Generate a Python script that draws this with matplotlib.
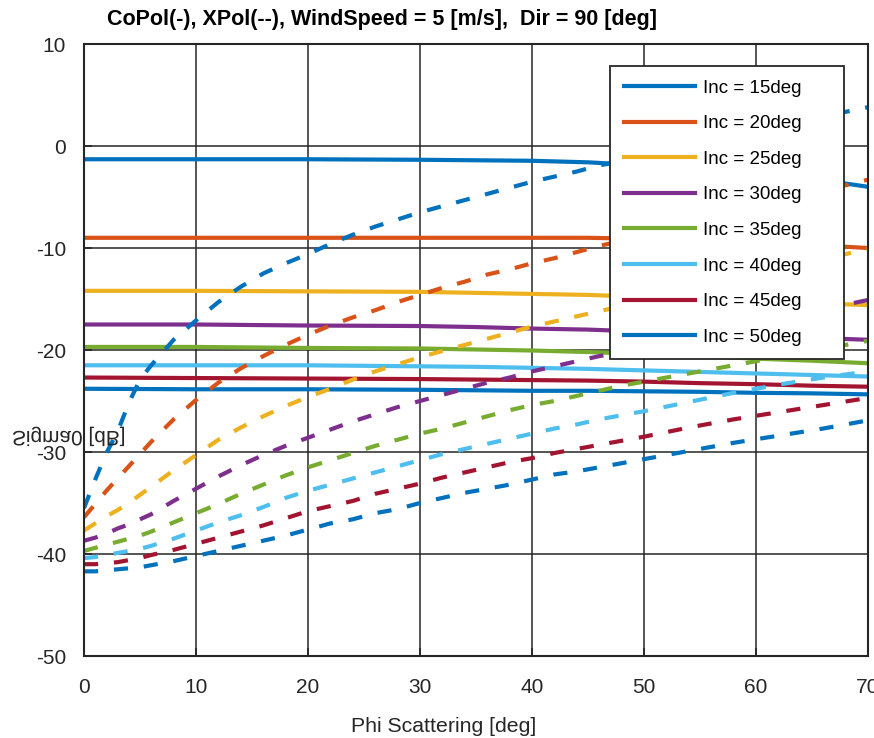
import matplotlib
matplotlib.use("Agg")
import matplotlib.pyplot as plt
from matplotlib.patheffects import AbstractPathEffect
from matplotlib.transforms import Affine2D

plt.rcParams['font.family'] = ['Liberation Sans', 'DejaVu Sans']
plt.rcParams['axes.unicode_minus'] = False

inc_angles = [15, 20, 25, 30, 35, 40, 45, 50]
colors = ["#0072BD", "#D95319", "#EDB120", "#7E2F8E",
          "#77AC30", "#4DBEEE", "#A2142F", "#0072BD"]

# CoPol (solid lines)
phi_co = [0, 10, 20, 30, 35, 40, 45, 50, 55, 60, 65, 70]
co_15 = [-1.3, -1.3, -1.3, -1.35, -1.4, -1.45, -1.6, -1.9, -2.3, -2.7, -3.2, -4.0]
co_20 = [-9.0, -9.0, -9.0, -9.0, -9.0, -9.0, -9.0, -9.1, -9.3, -9.5, -9.7, -10.0]
co_25 = [-14.2, -14.2, -14.25, -14.3, -14.4, -14.5, -14.6, -14.8, -15.0, -15.2, -15.4, -15.6]
co_30 = [-17.5, -17.5, -17.6, -17.65, -17.75, -17.9, -18.0, -18.2, -18.4, -18.6, -18.8, -19.0]
co_35 = [-19.7, -19.7, -19.8, -19.85, -19.95, -20.05, -20.2, -20.4, -20.6, -20.85, -21.05, -21.3]
co_40 = [-21.5, -21.5, -21.5, -21.6, -21.65, -21.75, -21.85, -22.0, -22.15, -22.3, -22.45, -22.6]
co_45 = [-22.7, -22.75, -22.8, -22.85, -22.9, -22.95, -23.0, -23.1, -23.25, -23.35, -23.5, -23.6]
co_50 = [-23.8, -23.85, -23.85, -23.9, -23.95, -24.0, -24.0, -24.05, -24.1, -24.2, -24.25, -24.35]

# XPol (dashed lines)
phi_x = [0, 1, 2, 3, 4, 5, 6, 8, 10, 12, 14, 16, 18, 20, 22, 24, 26, 28, 30,
         32, 34, 36, 38, 40, 42, 44, 46, 48, 50, 54, 58, 62, 66, 70]
x_15 = [-35.5, -32.7, -30.1, -28.0, -25.2, -22.9, -21.5, -19.0, -17.1, -15.3, -13.8, -12.5,
        -11.5, -10.6, -9.6, -8.7, -7.9, -7.2, -6.5, -5.9, -5.3, -4.7, -4.1, -3.5, -3.0,
        -2.5, -1.9, -1.5, -1.0, 0.0, 1.0, 2.0, 2.9, 3.8]
x_20 = [-36.4, -35.1, -33.8, -32.6, -31.4, -30.2, -29.0, -26.8, -24.9, -23.2, -21.8, -20.6,
        -19.5, -18.5, -17.6, -16.8, -16.1, -15.3, -14.6, -13.9, -13.3, -12.6, -12.1, -11.5,
        -11.0, -10.4, -9.8, -9.3, -8.8, -7.7, -6.6, -5.4, -4.4, -3.3]
x_25 = [-37.7, -37.0, -36.3, -35.7, -35.0, -34.2, -33.4, -31.8, -30.3, -28.8, -27.6, -26.5,
        -25.5, -24.6, -23.8, -22.9, -22.1, -21.4, -20.7, -20.1, -19.5, -18.9, -18.3, -17.7,
        -17.2, -16.7, -16.2, -15.7, -15.2, -14.2, -13.1, -12.1, -11.1, -10.1]
x_30 = [-38.7, -38.4, -38.0, -37.5, -37.1, -36.6, -36.1, -34.8, -33.6, -32.4, -31.3, -30.3,
        -29.4, -28.6, -27.8, -27.0, -26.3, -25.6, -25.0, -24.4, -23.8, -23.2, -22.7, -22.1,
        -21.6, -21.1, -20.6, -20.2, -19.8, -18.9, -17.9, -17.0, -16.0, -15.1]
x_35 = [-39.7, -39.4, -39.1, -38.8, -38.5, -38.2, -37.8, -36.9, -36.0, -35.1, -34.1, -33.2,
        -32.3, -31.5, -30.8, -30.1, -29.4, -28.8, -28.2, -27.7, -27.1, -26.5, -25.9, -25.4,
        -25.0, -24.5, -24.0, -23.5, -23.1, -22.3, -21.5, -20.7, -19.9, -19.1]
x_40 = [-40.4, -40.3, -40.1, -39.9, -39.7, -39.5, -39.2, -38.5, -37.7, -36.9, -36.2, -35.4,
        -34.5, -33.8, -33.2, -32.6, -32.0, -31.4, -30.8, -30.2, -29.7, -29.2, -28.7, -28.2,
        -27.7, -27.3, -26.8, -26.4, -26.0, -25.1, -24.2, -23.4, -22.7, -22.1]
x_45 = [-41.0, -41.0, -40.9, -40.8, -40.6, -40.4, -40.1, -39.6, -39.0, -38.4, -37.8, -37.2,
        -36.5, -35.8, -35.3, -34.8, -34.1, -33.6, -33.1, -32.5, -32.0, -31.5, -31.0, -30.6,
        -30.1, -29.7, -29.3, -28.9, -28.5, -27.6, -26.8, -26.1, -25.4, -24.7]
x_50 = [-41.7, -41.7, -41.6, -41.5, -41.4, -41.3, -41.1, -40.7, -40.2, -39.7, -39.2, -38.7,
        -38.2, -37.6, -37.0, -36.6, -36.0, -35.6, -35.0, -34.5, -34.0, -33.6, -33.2, -32.7,
        -32.2, -31.9, -31.5, -31.1, -30.7, -29.9, -29.1, -28.4, -27.7, -26.9]

copol = [co_15, co_20, co_25, co_30, co_35, co_40, co_45, co_50]
xpol = [x_15, x_20, x_25, x_30, x_35, x_40, x_45, x_50]

xticks = [0, 10, 20, 30, 40, 50, 60, 70]
yticks = [-50, -40, -30, -20, -10, 0, 10]

dark = "#262626"


class FlipVertical(AbstractPathEffect):
    # mirror the glyph outlines about the baseline (label in the reference is upside down)
    def draw_path(self, renderer, gc, tpath, affine, rgbFace=None):
        renderer.draw_path(gc, tpath, Affine2D().scale(1, -1) + affine, rgbFace)


fig = plt.figure(figsize=(8.74, 7.38), dpi=100)
ax = fig.add_axes([84 / 874, 1 - 656 / 738, 784 / 874, 612 / 738])

for inc, c, y in zip(inc_angles, colors, copol):
    ax.plot(phi_co, y, color=c, lw=3.0, label=f"Inc = {inc}deg")
for c, y in zip(colors, xpol):
    ax.plot(phi_x, y, color=c, lw=3.0, linestyle=(0, (3.4, 3.8)))

ax.set_xlim(0, 70)
ax.set_ylim(-50, 10)
ax.set_xticks(xticks)
ax.set_yticks(yticks)
ax.grid(True, color=dark, lw=1.1)
ax.set_axisbelow(True)
for sp in ax.spines.values():
    sp.set_color(dark)
    sp.set_linewidth(1.5)
ax.tick_params(direction='in', length=6, width=1.2, colors=dark, labelsize=15)
ax.tick_params(axis='x', pad=16)
ax.tick_params(axis='y', pad=13)

leg = ax.legend(loc='upper left', bbox_to_anchor=(0.671, 0.487, 0.298, 0.477),
                mode='expand', borderaxespad=0, fontsize=13.5, fancybox=False,
                framealpha=1, edgecolor=dark, labelspacing=0.985, borderpad=0.72,
                handlelength=3.8, handletextpad=0.43)
leg.get_frame().set_linewidth(1.3)

fig.text(107 / 874, 1 - 19 / 738, "CoPol(-), XPol(--), WindSpeed = 5 [m/s],  Dir = 90 [deg]",
         fontsize=15.5, fontweight='bold', ha='left', va='center', color='black')
fig.text(444 / 874, 1 - 726 / 738, "Phi Scattering [deg]", fontsize=15.3,
         ha='center', va='center', color=dark)
fig.text(12 / 874, 1 - 431 / 738, "Sigma0 [dB]", fontsize=15, ha='left', va='baseline',
         color=dark, path_effects=[FlipVertical()])

fig.savefig("out.png", dpi=100)
